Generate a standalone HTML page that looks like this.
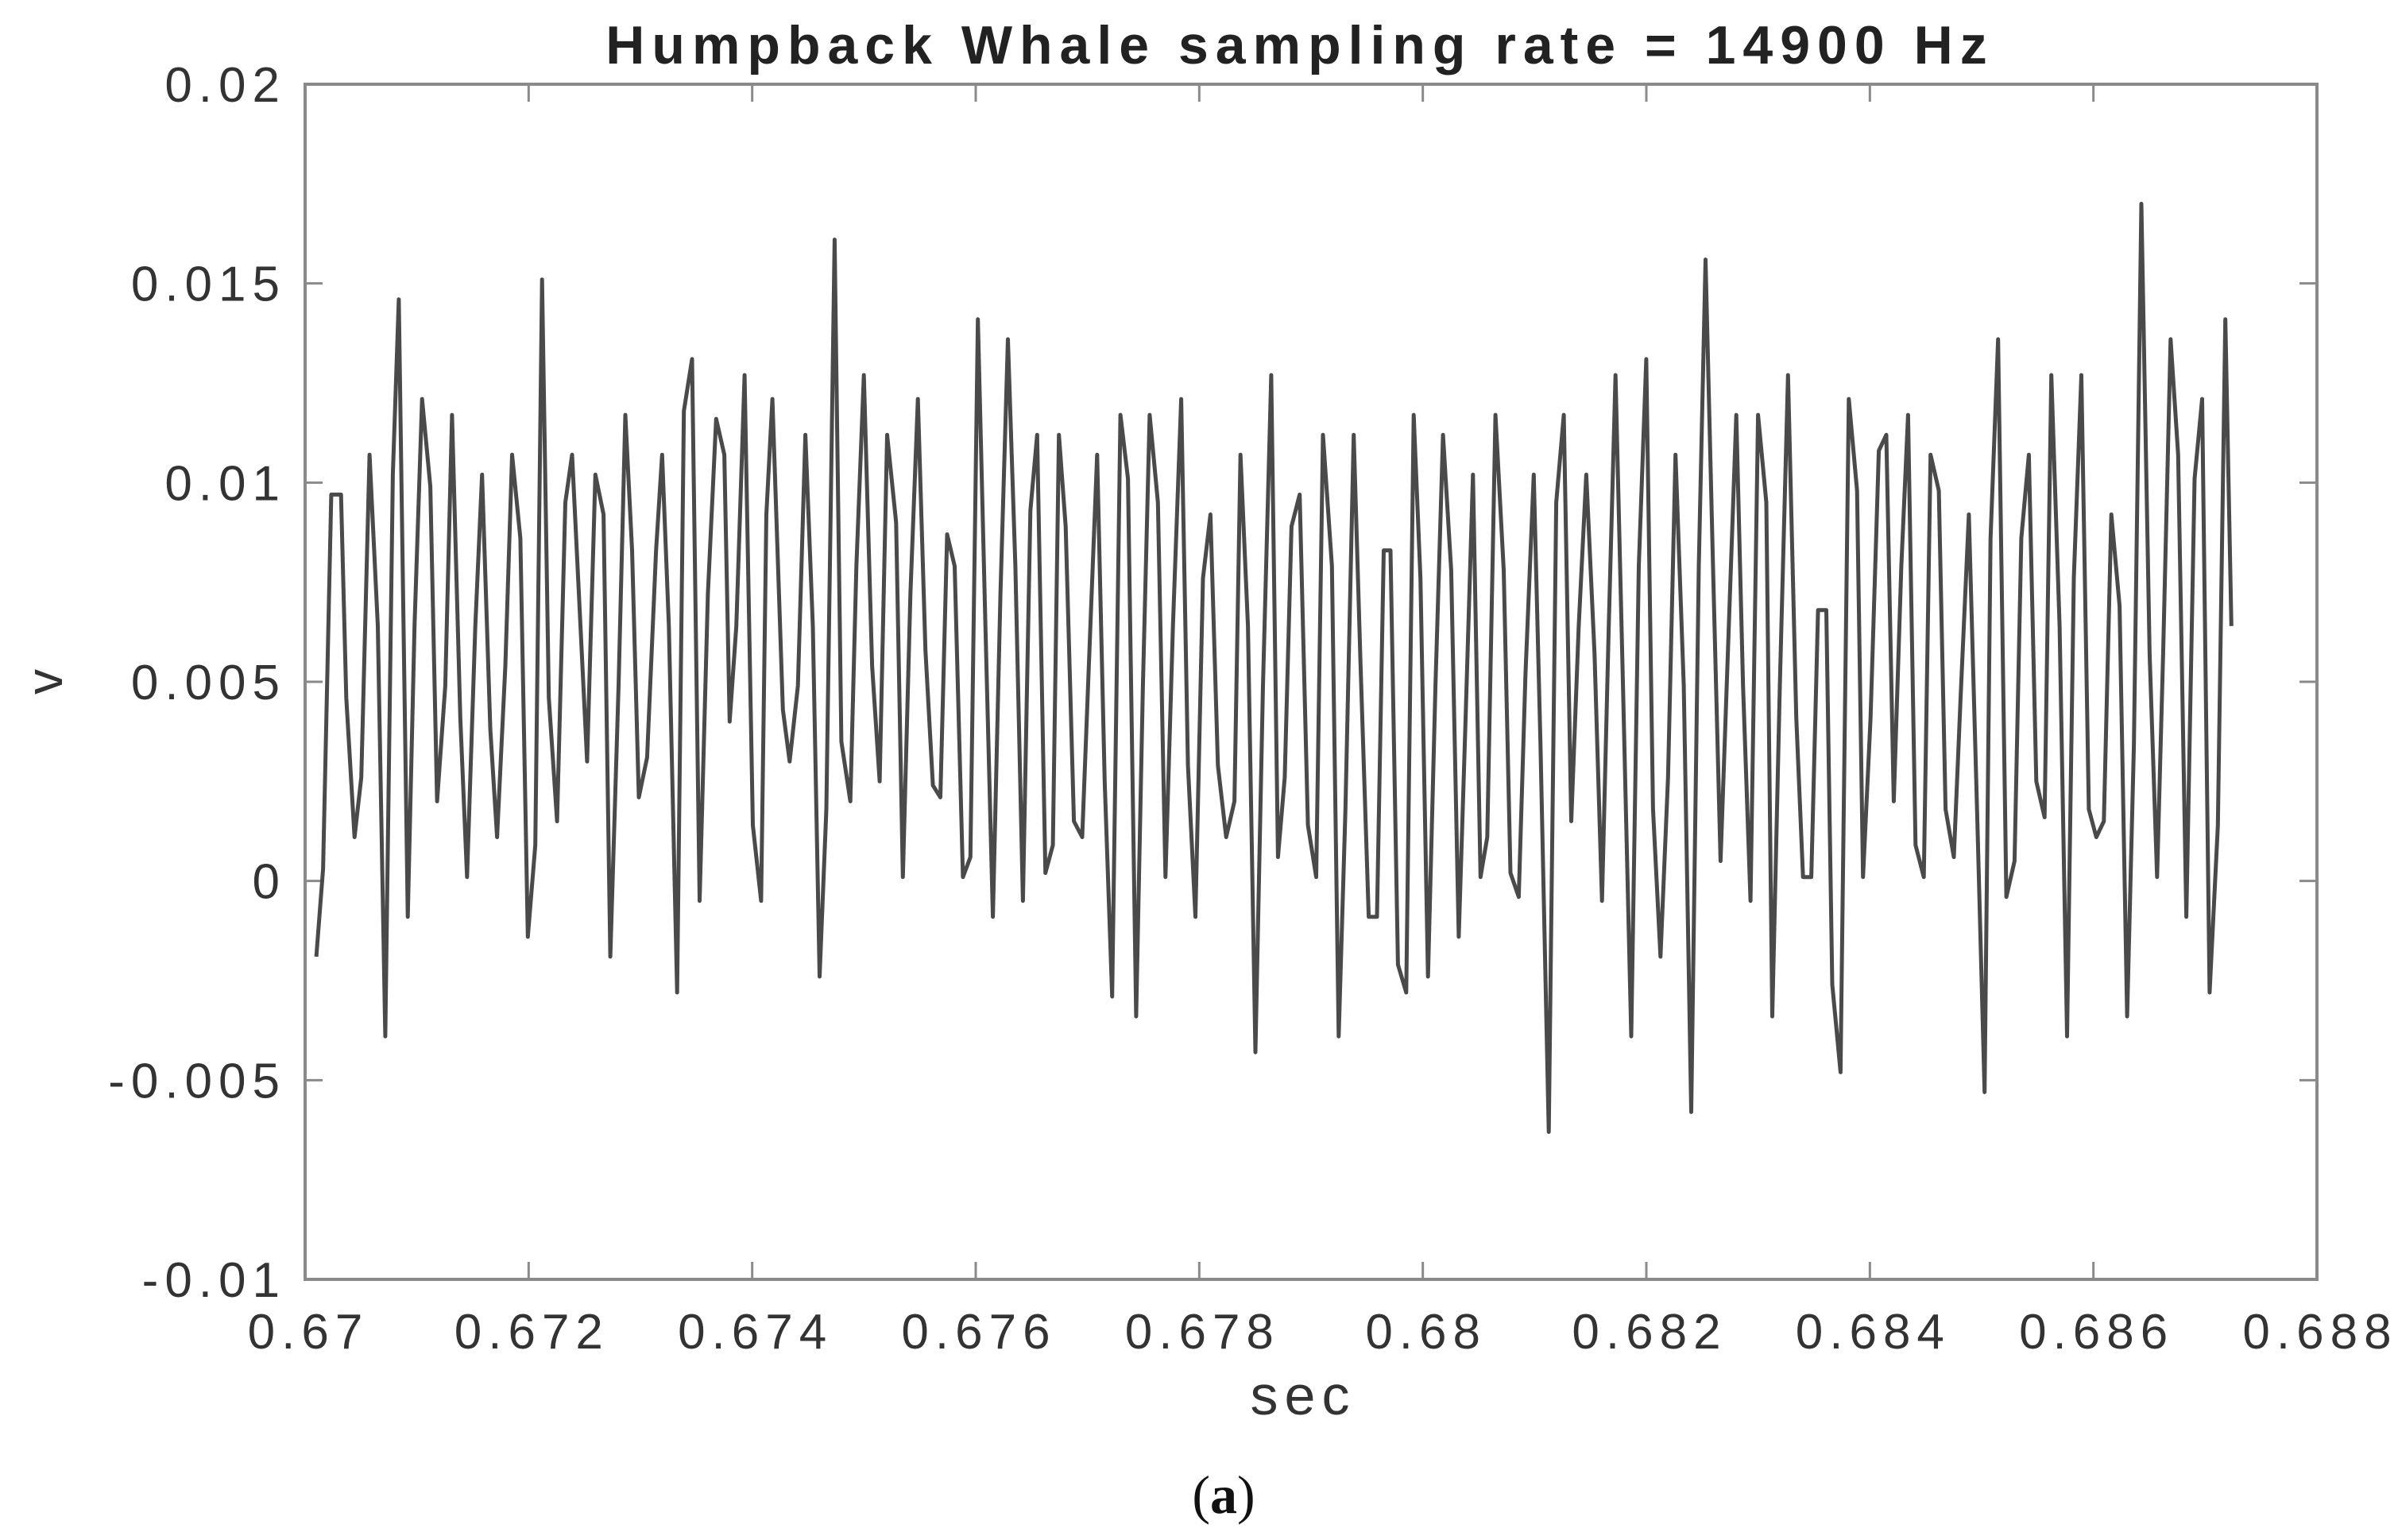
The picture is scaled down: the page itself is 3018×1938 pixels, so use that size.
<!DOCTYPE html>
<html><head><meta charset="utf-8"><style>
html,body{margin:0;padding:0;background:#fff;}
svg{display:block;}
text{font-family:"Liberation Sans",Arial,sans-serif;}
</style></head><body>
<svg id="chart" width="3018" height="1938" viewBox="0 0 3018 1938" xmlns="http://www.w3.org/2000/svg">
<rect x="0" y="0" width="3018" height="1938" fill="#fff"/>
<text x="1636" y="80" font-size="68" font-weight="bold" letter-spacing="9" fill="#222" text-anchor="middle">Humpback Whale sampling rate = 14900 Hz</text>
<text x="1640" y="1780" font-size="70" letter-spacing="8" fill="#333" text-anchor="middle">sec</text>
<text transform="translate(78,858) rotate(-90)" font-size="64" fill="#333" text-anchor="middle">v</text>
<text x="1540" y="1904" font-size="68" fill="#111" text-anchor="middle" style="font-family:'Liberation Serif',serif">(<tspan font-weight="bold">a</tspan>)</text>
<g id="grid"></g>
<g id="series"></g>
<rect x="384" y="106" width="2532" height="1504" fill="none" stroke="#8a8a8a" stroke-width="4"/>
</svg>
<script>
const xTicks = [0.67,0.672,0.674,0.676,0.678,0.68,0.682,0.684,0.686,0.688];
const xTickLabels = ["0.67","0.672","0.674","0.676","0.678","0.68","0.682","0.684","0.686","0.688"];
const yTicks = [0.02,0.015,0.01,0.005,0,-0.005,-0.01];
const yTickLabels = ["0.02","0.015","0.01","0.005","0","-0.005","-0.01"];
const startTime = 0.6701;
const samplingRate = 14900;
// sample index of each polyline vertex
const sampleIdx = [0,0.9,2,3.3,4,5.1,6,7.1,8.2,9.2,10.2,11,12.2,13.1,14.1,15.2,16.1,17.2,18.1,19.2,20.1,21.2,22.1,23.2,24.1,25.2,26.1,27.2,28.2,29.2,30.1,31,32.1,33.2,34.1,36.1,37.2,38.3,39.2,40.3,41.2,42.1,43,44.1,45.3,46.1,47,48.1,49,50.1,51.1,52.2,53.3,54.4,55.1,56,57.1,58.2,59.3,60,60.8,62.2,63.1,64.2,65.2,66.2,67.1,
68,69.1,70,71.2,72,73,74.1,75.1,76.1,77.3,78.2,79.2,80.2,81.2,82.2,83.2,84.1,85.1,86.2,87.2,88.2,89.2,90.2,91.2,92.2,93.2,94.2,95.2,96.1,97.2,98.2,99,99.9,101,102.1,103.2,104.1,105.1,106.1,107.2,108.2,109.3,110.2,111.1,112.2,113.2,114.2,115.3,116.2,117.2,118.2,119.2,120.2,121.3,122.4,123.2,124.2,125.2,126.2,127.3,128.2,129.1,130,131.1,132.2,133.3,134.2,135.4,
136.3,137.2,138.3,139.2,140.3,141.4,142.3,143.2,144.2,145.3,146.3,147.2,148.2,149.2,150.2,151.3,152.3,153.2,154.2,155.2,156.1,157.2,158.3,159.2,160.3,161.2,162.3,163.2,164.3,165.3,166.3,167.3,168.3,169.3,170.4,171.4,172.3,173.2,174.2,175.3,176.3,177.3,178.2,179.2,180.2,181.2,182.3,183.3,184.3,185.2,186.2,187.2,188.3,189.3,190.2,191.2,192.2,193.3,194.1,195.1,196.2,197.3,198.2,199.3,200.2,201.3,202.1,
203.2,204.3,205.4,206.2,207.2,208.3,209.3,210.3,211.3,212.2,213.2,214.3,215.2,216.3,217.2,218.3,219.2,220.3,221.4,222.4,223.2,224.2,225.3,226.4,227.3,228.3,229.3,230.4,231.3,232.4,233.4,234.3,235.3,236.3,237.3,238.3,239.3,240.4,241.4,242.3,243.3,244.4,245.4,246.2,247.2,248.2,249.3,250.4,251.4,252.4,253.5,254.5,255.3];
// amplitude (x 0.001 v)
const amplitude = [-1.9,0.3,9.7,9.7,4.6,1.1,2.6,10.7,6.4,-3.9,10.2,14.6,-0.9,6.4,12.1,9.9,2.0,4.9,11.7,4.1,0.1,6.4,10.2,3.8,1.1,5.4,10.7,8.6,-1.4,0.9,15.1,4.6,1.5,9.5,10.7,3.0,10.2,9.2,-1.9,4.9,11.7,8.3,2.1,3.1,8.3,10.7,6.4,-2.8,11.8,13.1,-0.5,7.2,11.6,10.7,4.0,6.4,12.7,1.4,-0.5,9.2,12.1,4.3,3.0,4.9,11.2,6.4,-2.4,
1.8,16.1,3.5,2.0,7.9,12.7,5.4,2.5,11.2,9.0,0.1,7.2,12.1,5.8,2.4,2.1,8.7,7.9,0.1,0.6,14.1,6.4,-0.9,7.2,13.6,7.9,-0.5,9.3,11.2,0.2,0.9,11.2,8.9,1.5,1.1,6.4,10.7,2.5,-2.9,11.7,10.1,-3.4,4.9,11.7,9.5,0.1,6.4,12.1,2.9,-0.9,7.6,9.2,2.9,1.1,2.0,10.7,6.4,-4.3,4.9,12.7,0.6,2.6,8.9,9.7,1.4,0.1,11.2,7.9,
-3.9,1.8,11.2,5.5,-0.9,-0.9,8.3,8.3,-2.1,-2.8,11.7,7.6,-2.4,4.9,11.2,7.8,-1.4,4.0,10.2,0.1,1.1,11.7,7.8,0.2,-0.4,5.2,10.2,3.4,-6.3,9.5,11.7,1.5,6.4,10.2,5.7,-0.5,6.4,12.7,4.9,-3.9,7.9,13.1,1.8,-1.9,2.6,10.7,4.9,-5.8,7.9,15.6,7.9,0.5,6.4,11.7,4.9,-0.5,11.7,9.5,-3.4,4.9,12.7,4.1,0.1,0.1,6.8,6.8,-2.6,
-4.8,12.1,9.8,0.1,4.1,10.8,11.2,2.0,7.9,11.7,0.9,0.1,10.7,9.8,1.8,0.6,4.6,9.2,1.8,-5.3,8.6,13.6,-0.4,0.5,8.6,10.7,2.5,1.6,12.7,6.4,-3.9,7.6,12.7,1.8,1.1,1.5,9.2,6.9,-3.4,3.4,17.0,5.7,0.1,5.7,13.6,10.7,-0.9,10.1,12.1,-2.8,1.4,14.1,6.4];

const NS = "http://www.w3.org/2000/svg";
const L = 384, R = 2916, T = 106, B = 1610;
const xMin = 0.67, xMax = 0.688, yMin = -0.01, yMax = 0.02;
function xScale(t){ return L + (t - xMin) / (xMax - xMin) * (R - L); }
function yScale(v){ return B - (v - yMin) / (yMax - yMin) * (B - T); }
const grid = document.getElementById('grid');
const series = document.getElementById('series');
function mk(tag, attrs){ const e = document.createElementNS(NS, tag); for (const k in attrs) e.setAttribute(k, attrs[k]); return e; }

xTicks.forEach((t, i) => {
  const x = xScale(t);
  const a = mk('line', {x1:x, x2:x, y1:B, y2:B-22, stroke:'#8a8a8a', 'stroke-width':3});
  
  
  grid.appendChild(a);
  const b = mk('line', {x1:x, x2:x, y1:T, y2:T+22, stroke:'#8a8a8a', 'stroke-width':3});
  
  
  grid.appendChild(b);
  const lb = mk('text', {x:x+4, y:1697, 'font-size':62, 'letter-spacing':8, fill:'#333', 'text-anchor':'middle'});
  lb.textContent = xTickLabels[i];
  
  
  grid.appendChild(lb);
});
yTicks.forEach((v, i) => {
  const y = yScale(v);
  const a = mk('line', {x1:L, x2:L+22, y1:y, y2:y, stroke:'#8a8a8a', 'stroke-width':3});
  
  
  grid.appendChild(a);
  const b = mk('line', {x1:R, x2:R-22, y1:y, y2:y, stroke:'#8a8a8a', 'stroke-width':3});
  
  
  grid.appendChild(b);
  const lb = mk('text', {x:360, y:y+22, 'font-size':62, 'letter-spacing':8, fill:'#333', 'text-anchor':'end'});
  lb.textContent = yTickLabels[i];
  
  
  grid.appendChild(lb);
});
const pts = sampleIdx.map((s, i) => xScale(startTime + s / samplingRate).toFixed(1) + ',' + yScale(amplitude[i] / 1000).toFixed(1)).join(' ');
const line = mk('polyline', {points:pts, fill:'none', stroke:'#4a4a4a', 'stroke-width':5, 'stroke-linejoin':'round'});


series.appendChild(line);
</script>
</body></html>
